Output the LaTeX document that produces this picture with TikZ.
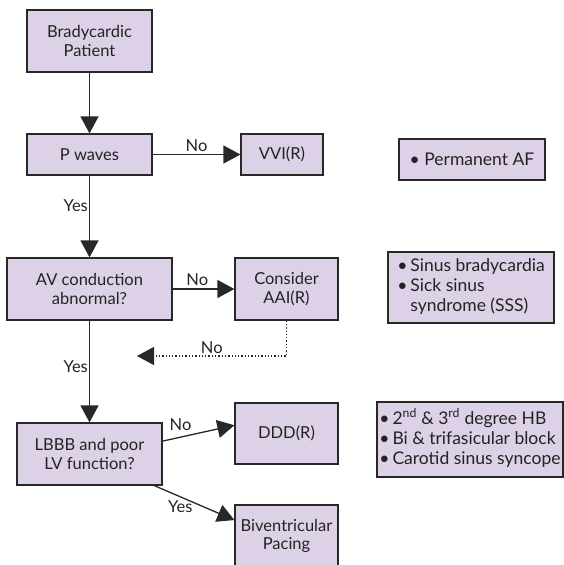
\documentclass[tikz,border=0pt]{standalone}
\usepackage{fontspec}
\setmainfont{Lato}
\usepackage{xcolor}
\usetikzlibrary{arrows.meta}

\definecolor{boxfill}{RGB}{220,209,231}
\definecolor{linegray}{RGB}{40,40,40}
\definecolor{textgray}{RGB}{35,35,35}

\begin{document}
\begin{tikzpicture}[x=1pt, y=-1pt,
    font=\fontsize{16.5}{18.5}\selectfont, text=textgray,
    block/.style={rectangle, draw=linegray, line width=1.2pt, fill=boxfill, align=center, inner sep=0pt},
    listbox/.style={block, align=left, font=\fontsize{17.5}{20}\selectfont},
    arrow/.style={-{Triangle[length=17pt,width=18pt]}, line width=1.3pt, draw=linegray},
    dotarrow/.style={arrow, dotted, line width=1.4pt},
    lbl/.style={inner sep=1pt}
]
\useasboundingbox (0,0) rectangle (564,565);

% Start
\node[block, minimum width=125, minimum height=62] (brady) at (89.5,41) {Bradycardic\\Patient};

% P waves
\node[block, minimum width=125, minimum height=41] (pwaves) at (89.5,154.5) {P waves};
\node[block, minimum width=82, minimum height=41] (vvi) at (282,154.5) {VVI(R)};

% AV conduction
\node[block, minimum width=165, minimum height=62] (avcond) at (89.5,289) {AV conduction\\abnormal?};
\node[block, minimum width=103, minimum height=62] (aai) at (286.5,289) {Consider\\AAI(R)};

% LBBB
\node[block, minimum width=145, minimum height=62] (lbbb) at (89.5,454) {LBBB and poor\\LV function?};
\node[block, minimum width=103, minimum height=61] (ddd) at (286.5,433.5) {DDD(R)};
\node[block, minimum width=103, minimum height=62] (biv) at (286.5,536) {Biventricular\\Pacing};

% Indications
\node[listbox, minimum width=146, minimum height=41] (af) at (472,159.5) {\textbullet\ Permanent AF};
\node[listbox, minimum width=166, minimum height=71] (sss) at (471,287.5)
    {\begin{tabular}{@{}l@{\,}l@{}}\textbullet & Sinus bradycardia\\ \textbullet & Sick sinus\\ & syndrome (SSS)\end{tabular}};
\node[listbox, minimum width=186, minimum height=75] (hb) at (470,439.5)
    {\begin{tabular}{@{}l@{\,}l@{}}\textbullet & 2\textsuperscript{nd} \& 3\textsuperscript{rd} degree HB\\ \textbullet & Bi \& trifasicular block\\ \textbullet & Carotid sinus syncope\end{tabular}};

% Arrows
\draw[arrow] (brady) -- (pwaves);
\draw[arrow] (pwaves) -- node[lbl, above, yshift=1] {No} (vvi);
\draw[arrow] (pwaves) -- node[lbl, left, pos=0.37] {Yes} (avcond);
\draw[arrow] (avcond) -- node[lbl, above, pos=0.4, yshift=2] {No} (aai);
\draw[arrow] (avcond) -- node[lbl, left, pos=0.45] {Yes} (lbbb);
\draw[arrow] (lbbb.10) -- node[lbl, above, pos=0.25, yshift=5] {No} (ddd.171);
\draw[arrow] (lbbb.-26) -- node[lbl, below, pos=0.4, xshift=-6] {Yes} (biv.163);

% Back to main path
\coordinate (back) at (137,356);
\draw[dotarrow] (aai.south) |- node[lbl, above, pos=0.75, yshift=1] {No} (back);

\end{tikzpicture}
\end{document}
